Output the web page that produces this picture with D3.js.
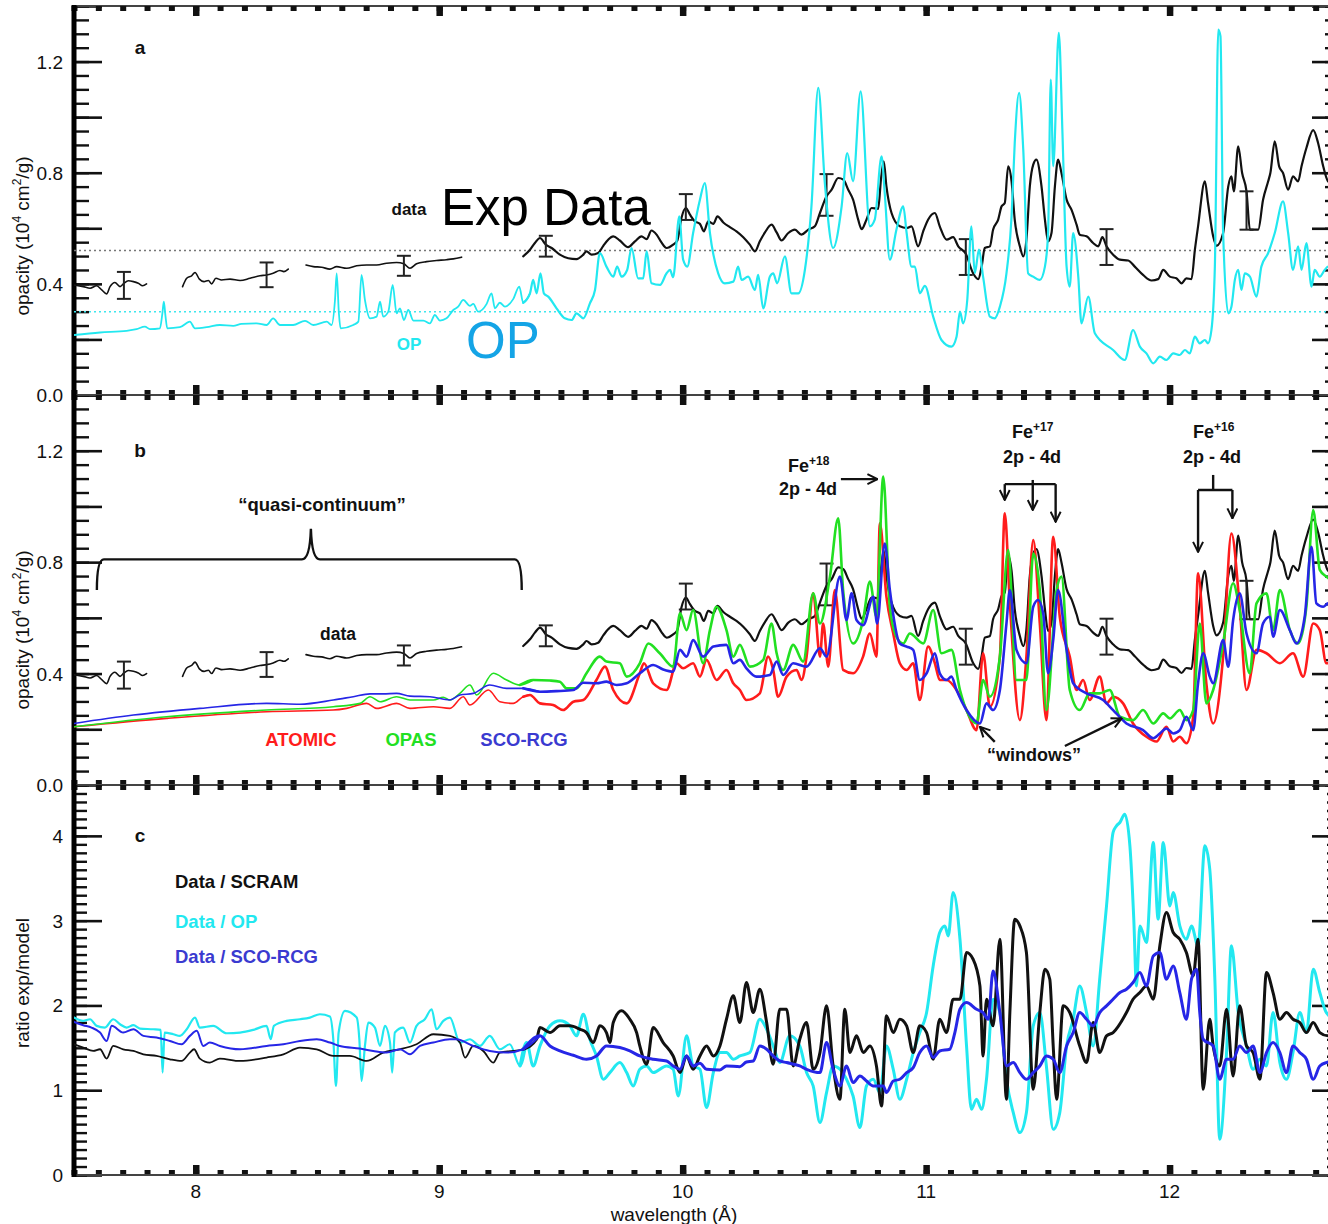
<!DOCTYPE html>
<html>
<head>
<meta charset="utf-8">
<script src="https://cdn.jsdelivr.net/npm/d3@7"></script>
<style>
  html, body { margin: 0; padding: 0; background: #fff; }
  svg { display: block; font-family: "Liberation Sans", Arial, Helvetica, sans-serif; }
</style>
</head>
<body>
<svg id="chart" width="1328" height="1224"></svg>
<script>
// ---------- measured opacity (10^4 cm^2/g) vs wavelength (Å), four contiguous segments ----------
const dataSeg1 = [[7.50,0.396],[7.538,0.39],[7.566,0.384],[7.593,0.393],[7.614,0.378],[7.634,0.364],[7.648,0.39],[7.668,0.405],[7.689,0.39],[7.705,0.402],[7.723,0.411],[7.744,0.408],[7.764,0.402],[7.782,0.393],[7.798,0.40]];
const dataSeg2 = [[7.946,0.39],[7.963,0.42],[7.983,0.429],[7.997,0.441],[8.015,0.417],[8.034,0.408],[8.052,0.412],[8.065,0.40],[8.083,0.42],[8.106,0.414],[8.141,0.417],[8.182,0.412],[8.223,0.42],[8.264,0.429],[8.291,0.432],[8.318,0.438],[8.346,0.448],[8.362,0.444],[8.38,0.453]];
const dataSeg3 = [[8.453,0.468],[8.483,0.462],[8.517,0.46],[8.551,0.453],[8.579,0.462],[8.62,0.456],[8.661,0.465],[8.702,0.468],[8.743,0.468],[8.784,0.474],[8.825,0.477],[8.855,0.472],[8.88,0.456],[8.907,0.472],[8.948,0.48],[8.989,0.484],[9.030,0.487],[9.058,0.49],[9.092,0.496]];
const dataSeg4 = [[9.345,0.499],[9.373,0.523],[9.393,0.547],[9.414,0.565],[9.438,0.541],[9.462,0.529],[9.496,0.505],[9.53,0.492],[9.564,0.489],[9.592,0.505],[9.605,0.517],[9.626,0.505],[9.653,0.511],[9.674,0.537],[9.694,0.559],[9.715,0.571],[9.742,0.556],[9.776,0.532],[9.804,0.553],[9.831,0.571],[9.852,0.561],[9.872,0.592],[9.893,0.577],[9.913,0.549],[9.934,0.529],[9.961,0.541],[9.978,0.556],[9.995,0.637],[10.013,0.673],[10.03,0.649],[10.05,0.625],[10.071,0.616],[10.087,0.589],[10.105,0.625],[10.126,0.616],[10.143,0.643],[10.167,0.621],[10.194,0.604],[10.221,0.589],[10.249,0.568],[10.276,0.541],[10.297,0.517],[10.317,0.553],[10.338,0.585],[10.365,0.613],[10.386,0.585],[10.406,0.556],[10.434,0.583],[10.461,0.595],[10.488,0.577],[10.516,0.595],[10.543,0.607],[10.564,0.655],[10.591,0.715],[10.612,0.739],[10.639,0.781],[10.66,0.775],[10.68,0.739],[10.7,0.703],[10.721,0.631],[10.735,0.597],[10.755,0.631],[10.776,0.673],[10.803,0.67],[10.815,0.78],[10.826,0.841],[10.837,0.751],[10.858,0.655],[10.892,0.607],[10.92,0.601],[10.94,0.607],[10.967,0.535],[10.988,0.589],[11.008,0.631],[11.036,0.655],[11.056,0.607],[11.084,0.559],[11.111,0.568],[11.132,0.535],[11.163,0.508],[11.193,0.438],[11.214,0.417],[11.228,0.462],[11.241,0.529],[11.262,0.535],[11.275,0.595],[11.296,0.631],[11.31,0.679],[11.323,0.691],[11.337,0.823],[11.351,0.769],[11.364,0.631],[11.385,0.535],[11.399,0.499],[11.412,0.559],[11.426,0.751],[11.44,0.829],[11.453,0.847],[11.474,0.751],[11.488,0.631],[11.501,0.553],[11.515,0.583],[11.529,0.751],[11.542,0.847],[11.556,0.799],[11.577,0.703],[11.597,0.667],[11.618,0.613],[11.631,0.577],[11.659,0.571],[11.686,0.547],[11.707,0.535],[11.724,0.568],[11.741,0.535],[11.768,0.505],[11.796,0.487],[11.83,0.484],[11.857,0.462],[11.891,0.432],[11.926,0.412],[11.953,0.417],[11.974,0.45],[12.001,0.426],[12.028,0.42],[12.049,0.402],[12.069,0.42],[12.09,0.417],[12.104,0.523],[12.117,0.607],[12.145,0.769],[12.158,0.691],[12.179,0.571],[12.193,0.537],[12.22,0.583],[12.241,0.751],[12.254,0.787],[12.264,0.733],[12.282,0.895],[12.298,0.799],[12.316,0.733],[12.33,0.595],[12.364,0.595],[12.384,0.703],[12.405,0.769],[12.414,0.799],[12.432,0.913],[12.45,0.823],[12.466,0.799],[12.487,0.739],[12.507,0.787],[12.528,0.769],[12.542,0.823],[12.562,0.889],[12.59,0.953],[12.61,0.907],[12.631,0.823],[12.651,0.769],[12.7,0.75]];

// error bars: [wavelength, low, high]
const errorBars = [[7.705,0.346,0.443],[8.291,0.388,0.477],[8.855,0.429,0.501],[9.438,0.498,0.573],[10.013,0.63,0.723],[10.591,0.645,0.795],[11.163,0.432,0.561],[11.741,0.468,0.597],[12.316,0.595,0.733]];

// reference levels in panel a
const levelData = 0.52;
const levelOP = 0.30;

// ---------- OP model opacity ----------
const opOpacity = [[7.50,0.216],[7.607,0.225],[7.716,0.231],[7.757,0.237],[7.791,0.246],[7.812,0.237],[7.853,0.24],[7.863,0.294],[7.869,0.336],[7.876,0.282],[7.883,0.24],[7.935,0.244],[7.976,0.264],[7.997,0.24],[8.045,0.244],[8.099,0.252],[8.154,0.249],[8.188,0.256],[8.25,0.258],[8.291,0.252],[8.318,0.276],[8.346,0.252],[8.4,0.252],[8.449,0.267],[8.483,0.252],[8.538,0.264],[8.558,0.252],[8.572,0.342],[8.579,0.438],[8.588,0.294],[8.595,0.24],[8.647,0.252],[8.668,0.264],[8.681,0.432],[8.695,0.342],[8.716,0.276],[8.743,0.282],[8.757,0.336],[8.77,0.282],[8.791,0.30],[8.809,0.396],[8.825,0.294],[8.839,0.312],[8.855,0.27],[8.873,0.306],[8.894,0.268],[8.935,0.268],[8.962,0.258],[8.982,0.288],[9.003,0.268],[9.030,0.276],[9.058,0.306],[9.078,0.318],[9.099,0.342],[9.126,0.321],[9.14,0.328],[9.16,0.30],[9.195,0.328],[9.215,0.366],[9.229,0.312],[9.249,0.332],[9.27,0.318],[9.304,0.345],[9.329,0.39],[9.345,0.332],[9.373,0.366],[9.386,0.414],[9.40,0.366],[9.416,0.438],[9.43,0.366],[9.448,0.354],[9.482,0.312],[9.516,0.276],[9.544,0.27],[9.564,0.294],[9.592,0.276],[9.619,0.33],[9.64,0.378],[9.66,0.511],[9.687,0.462],[9.715,0.426],[9.731,0.462],[9.749,0.426],[9.772,0.45],[9.79,0.529],[9.817,0.42],[9.838,0.42],[9.852,0.517],[9.872,0.402],[9.907,0.396],[9.934,0.438],[9.948,0.45],[9.961,0.424],[9.986,0.643],[10.002,0.487],[10.019,0.462],[10.043,0.583],[10.071,0.703],[10.091,0.763],[10.112,0.583],[10.146,0.438],[10.173,0.402],[10.208,0.408],[10.228,0.462],[10.242,0.414],[10.269,0.426],[10.297,0.378],[10.31,0.432],[10.331,0.312],[10.358,0.426],[10.372,0.438],[10.388,0.402],[10.42,0.499],[10.447,0.366],[10.475,0.366],[10.502,0.45],[10.529,0.679],[10.557,1.105],[10.584,0.763],[10.618,0.529],[10.653,0.679],[10.676,0.871],[10.70,0.769],[10.731,1.093],[10.769,0.607],[10.789,0.631],[10.817,0.859],[10.83,0.727],[10.851,0.487],[10.878,0.595],[10.906,0.679],[10.92,0.583],[10.94,0.462],[10.954,0.462],[10.974,0.366],[10.995,0.393],[11.029,0.282],[11.063,0.198],[11.104,0.174],[11.125,0.21],[11.139,0.30],[11.152,0.258],[11.169,0.342],[11.186,0.607],[11.20,0.438],[11.217,0.523],[11.234,0.426],[11.262,0.282],[11.282,0.276],[11.303,0.318],[11.33,0.438],[11.351,0.643],[11.364,0.907],[11.382,1.087],[11.399,0.883],[11.419,0.438],[11.44,0.426],[11.467,0.414],[11.488,0.462],[11.501,0.583],[11.512,1.135],[11.522,0.823],[11.545,1.303],[11.56,0.943],[11.577,0.462],[11.59,0.39],[11.604,0.583],[11.625,0.426],[11.638,0.258],[11.666,0.354],[11.693,0.222],[11.768,0.162],[11.816,0.126],[11.85,0.234],[11.878,0.174],[11.905,0.15],[11.933,0.114],[11.96,0.138],[11.987,0.126],[12.015,0.15],[12.042,0.144],[12.063,0.162],[12.083,0.15],[12.104,0.21],[12.124,0.186],[12.145,0.198],[12.158,0.186],[12.172,0.234],[12.186,0.462],[12.20,1.315],[12.209,1.291],[12.22,0.583],[12.241,0.294],[12.254,0.318],[12.268,0.414],[12.282,0.45],[12.295,0.378],[12.309,0.438],[12.33,0.426],[12.357,0.354],[12.377,0.462],[12.405,0.511],[12.432,0.583],[12.466,0.697],[12.487,0.583],[12.507,0.45],[12.528,0.535],[12.542,0.45],[12.562,0.547],[12.583,0.39],[12.596,0.45],[12.617,0.426],[12.637,0.45],[12.651,0.462],[12.7,0.46]];

// ---------- panel b models ----------
const atomic = [[7.50,0.209],[7.88,0.239],[8.291,0.263],[8.565,0.269],[8.62,0.275],[8.702,0.293],[8.743,0.275],[8.825,0.293],[8.88,0.275],[8.976,0.281],[9.044,0.275],[9.099,0.317],[9.126,0.287],[9.202,0.341],[9.249,0.299],[9.304,0.293],[9.345,0.317],[9.373,0.323],[9.414,0.293],[9.468,0.287],[9.509,0.269],[9.551,0.299],[9.592,0.305],[9.646,0.377],[9.681,0.425],[9.715,0.341],[9.77,0.293],[9.824,0.401],[9.841,0.437],[9.879,0.365],[9.934,0.341],[9.975,0.437],[10.002,0.419],[10.043,0.437],[10.071,0.389],[10.098,0.449],[10.139,0.377],[10.18,0.413],[10.208,0.365],[10.235,0.341],[10.262,0.305],[10.317,0.329],[10.351,0.461],[10.372,0.413],[10.392,0.317],[10.427,0.389],[10.468,0.413],[10.488,0.377],[10.509,0.461],[10.536,0.688],[10.564,0.461],[10.577,0.58],[10.598,0.425],[10.625,0.70],[10.659,0.413],[10.70,0.401],[10.741,0.461],[10.769,0.544],[10.796,0.461],[10.81,0.939],[10.837,0.676],[10.865,0.544],[10.892,0.437],[10.92,0.413],[10.947,0.437],[10.974,0.305],[11.008,0.497],[11.036,0.437],[11.056,0.377],[11.084,0.377],[11.125,0.341],[11.166,0.269],[11.207,0.197],[11.234,0.473],[11.262,0.281],[11.303,0.461],[11.323,0.975],[11.344,0.652],[11.385,0.233],[11.412,0.461],[11.44,0.879],[11.467,0.58],[11.494,0.233],[11.522,0.891],[11.549,0.604],[11.59,0.461],[11.618,0.341],[11.645,0.377],[11.672,0.305],[11.713,0.389],[11.741,0.293],[11.768,0.317],[11.809,0.293],[11.85,0.221],[11.905,0.173],[11.946,0.156],[11.987,0.209],[12.015,0.156],[12.042,0.173],[12.069,0.15],[12.097,0.245],[12.117,0.76],[12.151,0.365],[12.179,0.221],[12.22,0.461],[12.254,0.903],[12.288,0.64],[12.316,0.341],[12.357,0.485],[12.398,0.473],[12.453,0.437],[12.507,0.473],[12.549,0.389],[12.59,0.58],[12.617,0.556],[12.644,0.437],[12.7,0.45]];

const opas = [[7.50,0.209],[7.88,0.245],[8.291,0.269],[8.565,0.281],[8.675,0.293],[8.716,0.317],[8.757,0.299],[8.825,0.317],[8.88,0.305],[8.976,0.305],[9.017,0.315],[9.044,0.305],[9.085,0.329],[9.126,0.359],[9.154,0.323],[9.222,0.401],[9.277,0.377],[9.332,0.359],[9.386,0.377],[9.455,0.375],[9.496,0.371],[9.523,0.347],[9.564,0.347],[9.605,0.401],[9.66,0.461],[9.687,0.443],[9.742,0.437],[9.77,0.389],[9.824,0.437],[9.859,0.508],[9.906,0.473],[9.961,0.425],[9.989,0.616],[10.016,0.556],[10.043,0.628],[10.084,0.437],[10.112,0.556],[10.139,0.64],[10.18,0.556],[10.208,0.461],[10.235,0.503],[10.276,0.425],[10.331,0.449],[10.365,0.58],[10.386,0.473],[10.413,0.413],[10.454,0.503],[10.495,0.443],[10.536,0.688],[10.564,0.58],[10.605,0.748],[10.639,0.957],[10.659,0.70],[10.70,0.508],[10.741,0.592],[10.769,0.73],[10.796,0.604],[10.824,1.107],[10.851,0.64],[10.878,0.532],[10.906,0.508],[10.933,0.544],[10.988,0.508],[11.029,0.628],[11.063,0.473],[11.104,0.485],[11.139,0.341],[11.207,0.221],[11.234,0.377],[11.262,0.317],[11.303,0.461],[11.337,0.843],[11.371,0.377],[11.412,0.377],[11.44,0.831],[11.467,0.70],[11.494,0.269],[11.536,0.70],[11.556,0.748],[11.59,0.341],[11.631,0.269],[11.672,0.329],[11.713,0.329],[11.754,0.341],[11.796,0.245],[11.85,0.233],[11.891,0.269],[11.933,0.221],[11.974,0.257],[12.001,0.239],[12.042,0.269],[12.069,0.233],[12.097,0.269],[12.124,0.58],[12.151,0.293],[12.179,0.341],[12.22,0.508],[12.261,0.724],[12.288,0.628],[12.329,0.401],[12.357,0.652],[12.398,0.688],[12.425,0.556],[12.453,0.70],[12.494,0.556],[12.528,0.508],[12.562,0.64],[12.59,0.987],[12.617,0.772],[12.644,0.748],[12.7,0.72]];

const scoRcg = [[7.50,0.221],[7.744,0.251],[8.017,0.275],[8.291,0.293],[8.428,0.29],[8.565,0.305],[8.647,0.317],[8.716,0.327],[8.77,0.327],[8.825,0.329],[8.88,0.319],[8.962,0.317],[9.044,0.305],[9.085,0.323],[9.14,0.329],[9.208,0.359],[9.277,0.347],[9.345,0.347],[9.414,0.335],[9.482,0.337],[9.551,0.341],[9.592,0.367],[9.646,0.365],[9.687,0.371],[9.729,0.359],[9.77,0.365],[9.824,0.401],[9.879,0.431],[9.92,0.415],[9.961,0.407],[9.989,0.485],[10.016,0.461],[10.043,0.52],[10.084,0.461],[10.126,0.497],[10.18,0.503],[10.208,0.437],[10.235,0.449],[10.262,0.419],[10.303,0.389],[10.358,0.395],[10.386,0.443],[10.413,0.395],[10.454,0.437],[10.509,0.425],[10.564,0.491],[10.591,0.461],[10.646,0.748],[10.673,0.592],[10.694,0.688],[10.714,0.592],[10.742,0.574],[10.783,0.676],[10.799,0.58],[10.83,0.867],[10.851,0.70],[10.892,0.508],[10.92,0.497],[10.947,0.485],[10.974,0.377],[11.002,0.401],[11.036,0.473],[11.056,0.401],[11.084,0.377],[11.104,0.389],[11.125,0.341],[11.166,0.269],[11.221,0.221],[11.248,0.293],[11.275,0.269],[11.303,0.341],[11.33,0.58],[11.344,0.70],[11.371,0.485],[11.412,0.437],[11.44,0.64],[11.46,0.664],[11.481,0.616],[11.501,0.401],[11.522,0.52],[11.542,0.70],[11.577,0.485],[11.604,0.365],[11.659,0.329],[11.727,0.305],[11.768,0.269],[11.823,0.221],[11.891,0.197],[11.933,0.168],[11.96,0.185],[11.987,0.203],[12.015,0.185],[12.042,0.197],[12.069,0.245],[12.097,0.197],[12.117,0.365],[12.138,0.473],[12.165,0.389],[12.179,0.365],[12.22,0.52],[12.241,0.425],[12.261,0.592],[12.288,0.688],[12.316,0.544],[12.357,0.473],[12.384,0.58],[12.412,0.604],[12.425,0.532],[12.453,0.628],[12.494,0.556],[12.521,0.508],[12.555,0.604],[12.583,0.855],[12.603,0.652],[12.631,0.64],[12.651,0.652],[12.7,0.63]];

// ---------- panel c ratios exp/model ----------
const ratioOp = [[7.50,1.857],[7.538,1.818],[7.566,1.837],[7.593,1.759],[7.627,1.739],[7.661,1.837],[7.689,1.778],[7.716,1.739],[7.744,1.767],[7.771,1.727],[7.826,1.719],[7.856,1.711],[7.864,1.208],[7.872,1.68],[7.908,1.66],[7.935,1.641],[7.963,1.719],[7.997,1.857],[8.017,1.739],[8.072,1.759],[8.127,1.672],[8.182,1.68],[8.236,1.711],[8.291,1.759],[8.308,1.601],[8.321,1.759],[8.373,1.818],[8.428,1.837],[8.469,1.857],[8.51,1.896],[8.551,1.869],[8.565,1.601],[8.576,1.05],[8.587,1.68],[8.613,1.936],[8.661,1.857],[8.672,1.601],[8.681,1.109],[8.695,1.522],[8.709,1.798],[8.736,1.739],[8.757,1.522],[8.777,1.759],[8.798,1.562],[8.807,1.208],[8.818,1.68],[8.852,1.739],[8.88,1.562],[8.907,1.759],[8.941,1.837],[8.969,1.955],[8.989,1.719],[9.017,1.818],[9.044,1.857],[9.085,1.562],[9.126,1.601],[9.167,1.522],[9.208,1.641],[9.249,1.483],[9.29,1.542],[9.332,1.286],[9.359,1.562],[9.386,1.286],[9.414,1.522],[9.455,1.759],[9.496,1.818],[9.537,1.759],[9.564,1.641],[9.592,1.896],[9.619,1.601],[9.646,1.404],[9.674,1.129],[9.701,1.208],[9.742,1.326],[9.77,1.208],[9.797,1.05],[9.824,1.247],[9.852,1.286],[9.879,1.208],[9.934,1.286],[9.961,1.247],[9.982,0.932],[10.016,1.641],[10.043,1.286],[10.071,1.247],[10.098,0.795],[10.126,1.208],[10.153,1.444],[10.18,1.444],[10.208,1.365],[10.235,1.404],[10.276,1.444],[10.317,1.837],[10.345,1.719],[10.372,1.522],[10.399,1.326],[10.44,1.641],[10.481,1.522],[10.509,1.208],[10.536,1.05],[10.564,0.618],[10.591,0.972],[10.618,1.286],[10.646,1.247],[10.673,1.129],[10.70,0.932],[10.728,0.559],[10.755,1.05],[10.783,1.129],[10.81,0.972],[10.837,1.522],[10.865,1.247],[10.892,0.893],[10.92,1.129],[10.947,1.444],[10.974,1.68],[11.002,1.916],[11.029,2.466],[11.056,2.86],[11.077,2.938],[11.091,2.82],[11.111,3.332],[11.139,2.781],[11.166,1.522],[11.186,0.775],[11.207,0.893],[11.228,0.775],[11.248,1.129],[11.275,2.073],[11.303,1.916],[11.33,1.129],[11.358,0.736],[11.385,0.50],[11.412,0.736],[11.44,1.759],[11.467,1.916],[11.494,1.286],[11.522,0.539],[11.549,0.736],[11.577,1.522],[11.604,1.837],[11.631,2.23],[11.659,1.916],[11.686,1.522],[11.713,2.309],[11.741,3.174],[11.768,4.04],[11.782,4.118],[11.796,4.158],[11.816,4.256],[11.837,3.883],[11.853,3.017],[11.864,2.23],[11.878,2.938],[11.905,2.742],[11.933,3.922],[11.953,3.017],[11.974,3.922],[12.001,3.174],[12.015,3.332],[12.042,2.938],[12.069,2.781],[12.09,2.938],[12.117,2.703],[12.145,3.883],[12.165,3.607],[12.186,2.309],[12.206,0.421],[12.234,1.444],[12.254,2.703],[12.282,1.916],[12.316,1.522],[12.343,1.247],[12.371,1.365],[12.398,1.286],[12.425,1.916],[12.453,1.326],[12.48,1.129],[12.507,1.444],[12.535,1.916],[12.562,1.68],[12.59,2.427],[12.617,2.152],[12.644,1.916],[12.7,1.8]];

const ratioScram = [[7.50,1.542],[7.538,1.503],[7.579,1.463],[7.607,1.483],[7.634,1.373],[7.661,1.522],[7.702,1.483],[7.744,1.463],[7.785,1.424],[7.839,1.404],[7.894,1.365],[7.942,1.345],[7.976,1.444],[7.993,1.483],[8.017,1.373],[8.058,1.326],[8.099,1.373],[8.182,1.345],[8.291,1.385],[8.36,1.424],[8.428,1.503],[8.497,1.483],[8.565,1.404],[8.633,1.404],[8.702,1.345],[8.77,1.444],[8.839,1.483],[8.907,1.542],[8.976,1.66],[9.044,1.641],[9.085,1.562],[9.106,1.385],[9.14,1.522],[9.181,1.463],[9.222,1.326],[9.249,1.444],[9.304,1.463],[9.345,1.483],[9.40,1.601],[9.414,1.739],[9.455,1.68],[9.496,1.759],[9.537,1.759],[9.578,1.719],[9.605,1.68],[9.633,1.562],[9.66,1.759],[9.687,1.68],[9.701,1.562],[9.715,1.798],[9.749,1.936],[9.783,1.837],[9.811,1.68],[9.824,1.522],[9.852,1.306],[9.879,1.739],[9.92,1.562],[9.961,1.404],[9.989,1.208],[10.016,1.404],[10.043,1.247],[10.071,1.404],[10.098,1.522],[10.126,1.404],[10.153,1.522],[10.18,1.837],[10.208,2.113],[10.235,1.798],[10.262,2.27],[10.29,1.916],[10.317,2.191],[10.345,1.798],[10.372,1.306],[10.399,1.955],[10.427,1.955],[10.454,1.286],[10.481,1.601],[10.509,1.798],[10.536,1.247],[10.564,1.444],[10.591,1.995],[10.618,1.286],[10.646,0.893],[10.666,1.955],[10.687,1.444],[10.714,1.641],[10.742,1.444],[10.769,1.522],[10.796,1.286],[10.817,0.814],[10.837,1.877],[10.865,1.68],[10.892,1.837],[10.92,1.759],[10.947,1.444],[10.974,1.759],[11.002,1.68],[11.029,1.365],[11.056,1.837],[11.084,1.68],[11.111,2.073],[11.139,2.073],[11.166,2.624],[11.193,2.545],[11.221,2.23],[11.234,1.404],[11.248,2.073],[11.275,1.759],[11.303,2.781],[11.33,0.893],[11.344,1.916],[11.364,3.017],[11.385,2.938],[11.412,2.624],[11.44,1.011],[11.467,1.916],[11.488,2.427],[11.508,2.309],[11.522,1.522],[11.536,0.893],[11.563,1.995],[11.59,1.916],[11.631,1.522],[11.659,1.326],[11.686,1.798],[11.713,1.444],[11.741,1.641],[11.768,1.68],[11.823,1.916],[11.85,2.073],[11.878,2.152],[11.905,2.23],[11.933,2.073],[11.96,2.703],[11.987,3.096],[12.015,2.86],[12.042,2.781],[12.069,2.624],[12.097,2.348],[12.117,2.781],[12.138,1.011],[12.165,1.837],[12.179,1.522],[12.206,1.286],[12.234,1.955],[12.261,1.168],[12.288,1.995],[12.316,1.522],[12.343,1.444],[12.371,1.129],[12.398,2.388],[12.425,2.152],[12.453,1.837],[12.48,1.916],[12.507,1.837],[12.535,1.798],[12.562,1.68],[12.59,1.798],[12.617,1.68],[12.651,1.641],[12.7,1.64]];

const ratioScoRcg = [[7.50,1.806],[7.538,1.767],[7.572,1.739],[7.607,1.68],[7.634,1.581],[7.655,1.759],[7.702,1.68],[7.744,1.719],[7.785,1.641],[7.839,1.621],[7.894,1.581],[7.942,1.542],[7.976,1.641],[8.004,1.70],[8.031,1.522],[8.058,1.562],[8.099,1.522],[8.182,1.483],[8.291,1.522],[8.36,1.542],[8.428,1.581],[8.497,1.601],[8.551,1.562],[8.592,1.522],[8.674,1.491],[8.729,1.463],[8.784,1.444],[8.839,1.483],[8.88,1.424],[8.921,1.522],[8.976,1.562],[9.044,1.601],[9.071,1.601],[9.14,1.522],[9.208,1.463],[9.277,1.444],[9.345,1.483],[9.414,1.641],[9.455,1.522],[9.496,1.463],[9.551,1.412],[9.605,1.365],[9.646,1.404],[9.687,1.522],[9.742,1.503],[9.783,1.463],[9.824,1.404],[9.879,1.365],[9.934,1.345],[9.961,1.286],[9.989,1.247],[10.016,1.404],[10.043,1.286],[10.071,1.318],[10.098,1.247],[10.153,1.239],[10.18,1.286],[10.235,1.278],[10.262,1.333],[10.29,1.345],[10.317,1.522],[10.345,1.483],[10.372,1.404],[10.399,1.345],[10.427,1.326],[10.481,1.286],[10.509,1.247],[10.564,1.208],[10.591,1.562],[10.618,1.247],[10.646,1.05],[10.673,1.286],[10.70,1.09],[10.728,1.168],[10.755,1.109],[10.783,1.05],[10.824,1.05],[10.837,0.972],[10.865,1.109],[10.892,1.129],[10.92,1.208],[10.947,1.267],[10.974,1.444],[11.002,1.522],[11.029,1.385],[11.056,1.463],[11.097,1.483],[11.118,1.68],[11.139,1.955],[11.166,2.034],[11.207,1.955],[11.234,1.916],[11.255,1.837],[11.275,2.407],[11.303,1.916],[11.33,1.286],[11.358,1.326],[11.385,1.208],[11.412,1.129],[11.44,1.208],[11.467,1.286],[11.494,1.404],[11.522,1.365],[11.549,1.208],[11.577,1.522],[11.604,1.68],[11.631,1.916],[11.659,1.837],[11.686,1.759],[11.713,1.916],[11.741,1.995],[11.768,2.073],[11.796,2.152],[11.823,2.191],[11.85,2.27],[11.878,2.388],[11.905,2.23],[11.933,2.584],[11.96,2.624],[11.987,2.309],[12.015,2.466],[12.042,2.152],[12.069,1.837],[12.09,2.309],[12.111,2.427],[12.124,1.916],[12.138,1.601],[12.179,1.522],[12.206,1.129],[12.234,1.365],[12.261,1.365],[12.288,1.522],[12.316,1.444],[12.343,1.522],[12.371,1.208],[12.398,1.444],[12.425,1.562],[12.453,1.444],[12.48,1.208],[12.507,1.522],[12.535,1.444],[12.562,1.365],[12.59,1.129],[12.617,1.286],[12.644,1.326],[12.7,1.35]];

// ---------- tick values ----------
const xMinorTicks = d3.range(75, 128).map(i => i / 10);
const xMajorTicks = [8, 9, 10, 11, 12];
const opacityMinorTicks = d3.range(0, 29).map(i => i * 0.05);
const opacityMajorTicks = [0, 0.2, 0.4, 0.6, 0.8, 1.0, 1.2, 1.4];
const opacityTickLabels = [0, 0.4, 0.8, 1.2];
const ratioMinorTicks = d3.range(0, 47).map(i => i / 10);
const ratioMajorTicks = [0, 1, 2, 3, 4];

// ---------- colours ----------
const C = {
  data: "#111111", op: "#22e8f0", opBig: "#14a4e6",
  red: "#ff1c1c", green: "#22e022", blue: "#2626e6", blueText: "#3a3ad0"
};

// ---------- layout ----------
const svg = d3.select("#chart");
svg.append("rect").attr("width", 1328).attr("height", 1224).attr("fill", "#fff");

const XL = 74, XR = 1340;
const x = d3.scaleLinear().domain([7.5, 12.7]).range([XL, XR]);

const panels = [
  { key: "a", top: 6, bottom: 395, max: 1.4 },
  { key: "b", top: 395, bottom: 785, max: 1.4 },
  { key: "c", top: 785, bottom: 1175, max: 4.6 }
];
panels.forEach(p => { p.y = d3.scaleLinear().domain([0, p.max]).range([p.bottom, p.top]); });
const [pa, pb, pc] = panels;

const defs = svg.append("defs");
panels.forEach(p => {
  defs.append("clipPath").attr("id", "clip-" + p.key)
    .append("rect").attr("x", XL).attr("y", p.top).attr("width", XR - XL).attr("height", p.bottom - p.top);
});
defs.append("marker").attr("id", "arrowhead")
  .attr("viewBox", "0 0 12 12").attr("refX", 11).attr("refY", 6)
  .attr("markerWidth", 12).attr("markerHeight", 12)
  .attr("markerUnits", "userSpaceOnUse").attr("orient", "auto")
  .append("path").attr("d", "M1,1 L11,6 L1,11").attr("fill", "none")
  .attr("stroke", "#111").attr("stroke-width", 2);

// ---------- axes & frame ----------
function styleTicks(sel, w) {
  sel.select(".domain").remove();
  sel.selectAll("line").attr("stroke", "#111").attr("stroke-width", w);
}

panels.forEach(p => {
  const g = svg.append("g");
  const minor = p.key === "c" ? ratioMinorTicks : opacityMinorTicks;
  const major = p.key === "c" ? ratioMajorTicks : opacityMajorTicks;
  const minorLen = p.key === "c" ? 13 : 15;
  // left (inward) ticks
  g.append("g").attr("transform", `translate(${XL},0)`)
    .call(d3.axisRight(p.y).tickValues(minor).tickSize(minorLen).tickFormat(""))
    .call(s => styleTicks(s, 2.4));
  g.append("g").attr("transform", `translate(${XL},0)`)
    .call(d3.axisRight(p.y).tickValues(major).tickSize(28).tickFormat(""))
    .call(s => styleTicks(s, 2.6));
  // right (inward) ticks
  g.append("g").attr("transform", `translate(${XR},0)`)
    .call(d3.axisLeft(p.y).tickValues(minor).tickSize(minorLen).tickFormat(""))
    .call(s => styleTicks(s, 2.4));
  g.append("g").attr("transform", `translate(${XR},0)`)
    .call(d3.axisLeft(p.y).tickValues(major).tickSize(28).tickFormat(""))
    .call(s => styleTicks(s, 2.6));

  // horizontal frame lines
  g.append("line").attr("x1", XL).attr("x2", XR).attr("y1", p.top).attr("y2", p.top)
    .attr("stroke", "#444").attr("stroke-width", 2);

  // x ticks: short, thick marks on bottom (pointing up) and top (pointing down)
  g.append("g").attr("transform", `translate(0,${p.bottom})`)
    .call(d3.axisTop(x).tickValues(xMinorTicks).tickSize(5).tickFormat(""))
    .call(s => styleTicks(s, 6));
  g.append("g").attr("transform", `translate(0,${p.bottom})`)
    .call(d3.axisTop(x).tickValues(xMajorTicks).tickSize(10).tickFormat(""))
    .call(s => styleTicks(s, 6.5));
  g.append("g").attr("transform", `translate(0,${p.top})`)
    .call(d3.axisBottom(x).tickValues(xMinorTicks).tickSize(5).tickFormat(""))
    .call(s => styleTicks(s, 6));
  g.append("g").attr("transform", `translate(0,${p.top})`)
    .call(d3.axisBottom(x).tickValues(xMajorTicks).tickSize(10).tickFormat(""))
    .call(s => styleTicks(s, 6.5));

  // y tick labels
  const labels = p.key === "c" ? ratioMajorTicks : opacityTickLabels;
  g.selectAll("text.ytl").data(labels).join("text")
    .attr("x", 63).attr("y", d => p.y(d) + 7)
    .attr("text-anchor", "end").attr("font-size", 19).attr("fill", "#111")
    .text(d => p.key === "c" ? d3.format("d")(d) : d3.format(".1f")(d));
});
svg.append("line").attr("x1", XL).attr("x2", XR).attr("y1", pc.bottom).attr("y2", pc.bottom)
  .attr("stroke", "#444").attr("stroke-width", 2);
svg.append("line").attr("x1", XL).attr("x2", XL).attr("y1", pa.top - 1).attr("y2", pc.bottom + 2)
  .attr("stroke", "#000").attr("stroke-width", 5);
svg.append("line").attr("x1", XR).attr("x2", XR).attr("y1", pa.top).attr("y2", pc.bottom)
  .attr("stroke", "#000").attr("stroke-width", 5);

// x tick labels and title
svg.selectAll("text.xtl").data(xMajorTicks).join("text")
  .attr("x", d => x(d)).attr("y", 1198).attr("text-anchor", "middle")
  .attr("font-size", 19).attr("fill", "#111").text(d => d);
svg.append("text").attr("x", 674).attr("y", 1221).attr("text-anchor", "middle")
  .attr("font-size", 19).attr("fill", "#111").text("wavelength (Å)");

// y axis titles
function opacityTitle(cy) {
  const t = svg.append("text").attr("transform", `translate(29,${cy}) rotate(-90)`)
    .attr("text-anchor", "middle").attr("font-size", 19).attr("fill", "#111");
  t.append("tspan").text("opacity (10");
  t.append("tspan").attr("font-size", 12).attr("dy", -8).text("4");
  t.append("tspan").attr("dy", 8).text(" cm");
  t.append("tspan").attr("font-size", 12).attr("dy", -8).text("2");
  t.append("tspan").attr("dy", 8).text("/g)");
}
opacityTitle(236);
opacityTitle(630);
svg.append("text").attr("transform", "translate(29,983) rotate(-90)")
  .attr("text-anchor", "middle").attr("font-size", 19).attr("fill", "#111").text("ratio exp/model");

// panel letters
[["a", 54], ["b", 457], ["c", 842]].forEach(([k, yy]) => {
  svg.append("text").attr("x", 140).attr("y", yy).attr("text-anchor", "middle")
    .attr("font-size", 19).attr("font-weight", "bold").attr("fill", "#111").text(k);
});

// ---------- series helpers ----------
function drawLine(panel, series, color, width) {
  const line = d3.line().curve(d3.curveMonotoneX).x(d => x(d[0])).y(d => panel.y(d[1]));
  svg.append("path").attr("clip-path", `url(#clip-${panel.key})`)
    .attr("d", line(series)).attr("fill", "none").attr("stroke", color)
    .attr("stroke-width", width).attr("stroke-linejoin", "round").attr("stroke-linecap", "round");
}
// thinner stroke for the short-wavelength part of a series
function drawSplit(panel, series, color, wEarly, wLate, split = 9.35) {
  let idx = series.findIndex(d => d[0] > split);
  if (idx < 0) idx = series.length - 1;
  drawLine(panel, series.slice(0, idx + 1), color, wEarly);
  drawLine(panel, series.slice(Math.max(idx - 1, 0)), color, wLate);
}
function drawData(panel) {
  [dataSeg1, dataSeg2, dataSeg3].forEach(s => drawLine(panel, s, C.data, 1.6));
  drawLine(panel, dataSeg4, C.data, 2.2);
  const g = svg.append("g").attr("stroke", "#222").attr("stroke-width", 2);
  errorBars.forEach(([l, lo, hi]) => {
    g.append("line").attr("x1", x(l)).attr("x2", x(l)).attr("y1", panel.y(lo)).attr("y2", panel.y(hi));
    g.append("line").attr("x1", x(l) - 7).attr("x2", x(l) + 7).attr("y1", panel.y(lo)).attr("y2", panel.y(lo));
    g.append("line").attr("x1", x(l) - 7).attr("x2", x(l) + 7).attr("y1", panel.y(hi)).attr("y2", panel.y(hi));
  });
}

// ---------- panel a ----------
svg.append("line").attr("x1", XL).attr("x2", XR).attr("y1", pa.y(levelData)).attr("y2", pa.y(levelData))
  .attr("stroke", "#777").attr("stroke-width", 1.5).attr("stroke-dasharray", "2,3");
svg.append("line").attr("x1", XL).attr("x2", XR).attr("y1", pa.y(levelOP)).attr("y2", pa.y(levelOP))
  .attr("stroke", "#3ee6ee").attr("stroke-width", 1.5).attr("stroke-dasharray", "2,3");
drawData(pa);
drawSplit(pa, opOpacity, C.op, 1.8, 2.2);

svg.append("text").attr("x", 409).attr("y", 215).attr("text-anchor", "middle")
  .attr("font-size", 17).attr("font-weight", "bold").attr("fill", "#111").text("data");
svg.append("text").attr("x", 441).attr("y", 225).attr("font-size", 51).attr("fill", "#000").text("Exp Data");
svg.append("text").attr("x", 409).attr("y", 350).attr("text-anchor", "middle")
  .attr("font-size", 17).attr("font-weight", "bold").attr("fill", C.op).text("OP");
svg.append("text").attr("x", 466).attr("y", 358).attr("font-size", 51).attr("fill", C.opBig).text("OP");

// ---------- panel b ----------
drawData(pb);
drawSplit(pb, atomic, C.red, 1.6, 2.6);
drawSplit(pb, opas, C.green, 1.6, 2.6);
drawSplit(pb, scoRcg, C.blue, 1.6, 2.6);

// "quasi-continuum" brace
(() => {
  const x0 = x(7.594), x1 = x(9.339), xm = x(8.473);
  const yh = pb.y(0.81), ye = pb.y(0.70), yp = pb.y(0.92);
  const d = `M${x0},${ye} Q${x0},${yh} ${x0 + 7},${yh} L${xm - 9},${yh} Q${xm - 1},${yh} ${xm},${yp} ` +
            `Q${xm + 1},${yh} ${xm + 9},${yh} L${x1 - 7},${yh} Q${x1},${yh} ${x1},${ye}`;
  svg.append("path").attr("d", d).attr("fill", "none").attr("stroke", "#111").attr("stroke-width", 2.4);
})();
svg.append("text").attr("x", 322).attr("y", 511).attr("text-anchor", "middle")
  .attr("font-size", 18.5).attr("font-weight", "bold").attr("fill", "#111").text("“quasi-continuum”");
svg.append("text").attr("x", 338).attr("y", 640).attr("text-anchor", "middle")
  .attr("font-size", 17.5).attr("font-weight", "bold").attr("fill", "#111").text("data");
[["ATOMIC", 301, C.red], ["OPAS", 411, C.green], ["SCO-RCG", 524, C.blueText]].forEach(([t, cx, col]) => {
  svg.append("text").attr("x", cx).attr("y", 746).attr("text-anchor", "middle")
    .attr("font-size", 18.5).attr("font-weight", "bold").attr("fill", col).text(t);
});

function ionLabel(xStart, xLine2, yBase, charge) {
  const t = svg.append("text").attr("x", xStart).attr("y", yBase)
    .attr("font-size", 18).attr("font-weight", "bold").attr("fill", "#111");
  t.append("tspan").text("Fe");
  t.append("tspan").attr("font-size", 12).attr("dy", -7).text(charge);
  svg.append("text").attr("x", xLine2).attr("y", yBase + (charge === "+18" ? 23 : 25))
    .attr("font-size", 18).attr("font-weight", "bold").attr("fill", "#111").text("2p - 4d");
}
ionLabel(788, 779, 472, "+18");
ionLabel(1012, 1003, 438, "+17");
ionLabel(1193, 1183, 438, "+16");

const ann = svg.append("g").attr("stroke", "#111").attr("stroke-width", 2.4).attr("fill", "none");
function arrow(l1, v1, l2, v2) {
  ann.append("line").attr("x1", x(l1)).attr("y1", pb.y(v1)).attr("x2", x(l2)).attr("y2", pb.y(v2))
    .attr("marker-end", "url(#arrowhead)");
}
function seg(l1, v1, l2, v2) {
  ann.append("line").attr("x1", x(l1)).attr("y1", pb.y(v1)).attr("x2", x(l2)).attr("y2", pb.y(v2));
}
// Fe+18
arrow(10.65, 1.098, 10.80, 1.098);
// Fe+17 bracket
seg(11.438, 1.095, 11.438, 1.080);
seg(11.323, 1.080, 11.532, 1.080);
arrow(11.323, 1.080, 11.323, 1.023);
arrow(11.438, 1.080, 11.438, 0.987);
arrow(11.532, 1.080, 11.532, 0.945);
// Fe+16 bracket
seg(12.179, 1.113, 12.179, 1.059);
seg(12.117, 1.059, 12.258, 1.059);
arrow(12.117, 1.059, 12.117, 0.837);
arrow(12.258, 1.059, 12.258, 0.957);
// windows
arrow(11.282, 0.155, 11.221, 0.209);
arrow(11.57, 0.14, 11.803, 0.239);
svg.append("text").attr("x", 1034).attr("y", 761).attr("text-anchor", "middle")
  .attr("font-size", 18).attr("font-weight", "bold").attr("fill", "#111").text("“windows”");

// ---------- panel c ----------
drawSplit(pc, ratioOp, C.op, 2.2, 3);
drawSplit(pc, ratioScram, C.data, 1.8, 3);
drawSplit(pc, ratioScoRcg, C.blue, 2, 3);

[["Data / SCRAM", 888, "#111"], ["Data / OP", 928, C.op], ["Data / SCO-RCG", 963, C.blueText]].forEach(([t, yy, col]) => {
  svg.append("text").attr("x", 175).attr("y", yy).attr("font-size", 18.5)
    .attr("font-weight", "bold").attr("fill", col).text(t);
});
</script>
</body>
</html>
